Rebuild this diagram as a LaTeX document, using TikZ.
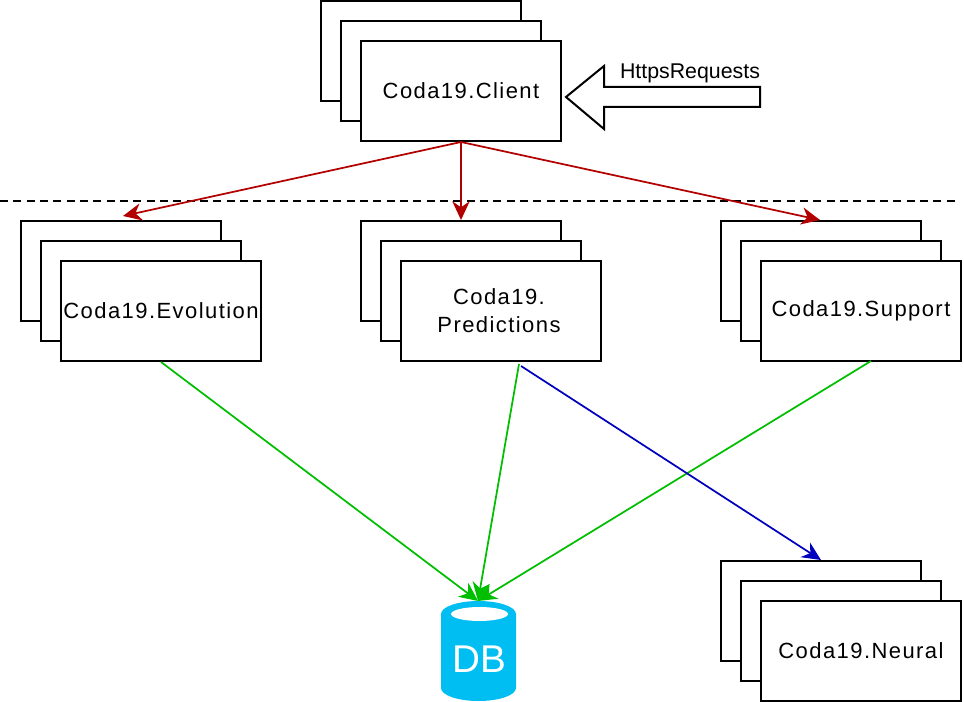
\documentclass[tikz,border=0pt]{standalone}
\usepackage{fontspec}
\setmainfont{Liberation Sans}
\newfontfamily\wideface[LetterSpace=6.5]{Liberation Sans}
\usetikzlibrary{arrows.meta}
\definecolor{clientred}{HTML}{B20000}
\definecolor{dbgreen}{HTML}{00BE00}
\definecolor{neuralblue}{HTML}{0000BE}
\definecolor{dbcyan}{HTML}{00BEF2}
\tikzset{
	service/.style={draw, line width=1.5pt, fill=white, minimum width=150pt, minimum height=75pt, inner sep=0pt, align=center, font=\fontsize{16.5pt}{21pt}\wideface},
	call/.style={line width=1.3pt, -{Stealth[length=14pt, width=13pt, inset=4.5pt]}},
}

\begin{document}
\begin{tikzpicture}[x=0.75pt, y=-0.75pt]
	\useasboundingbox (0, 0) rectangle (964, 702);
	\fill[white] (0, 0) rectangle (964, 702);

	% client
	\node[service] (clientA) at (421, 51) {};
	\node[service] (clientB) at (441, 71) {};
	\node[service] (client) at (461, 91) {\raisebox{-1pt}{Coda19.Client}};

	% services
	\node[service] (evolutionA) at (121, 271) {};
	\node[service] (evolutionB) at (141, 291) {};
	\node[service] (evolution) at (161, 311) {\raisebox{-0.7pt}{Coda19.Evolution}};
	\node[service] (predictionsA) at (461, 271) {};
	\node[service] (predictionsB) at (481, 291) {};
	\node[service] (predictions) at (501, 311) {Coda19.\hspace*{3pt}\\Predictions\hspace*{3pt}};
	\node[service] (supportA) at (821, 271) {};
	\node[service] (supportB) at (841, 291) {};
	\node[service] (support) at (861, 311) {\raisebox{-0.7pt}{Coda19.Support}};
	\node[service] (neuralA) at (821, 611) {};
	\node[service] (neuralB) at (841, 631) {};
	\node[service] (neural) at (861, 651) {Coda19.Neural};

	% separator
	\coordinate (sepL) at (0, 201);
	\coordinate (sepR) at (957, 201);
	\draw[line width=1.1pt, dash pattern=on 6pt off 4pt] (sepL) -- (sepR);

	% request arrow
	\coordinate (reqTip) at (566, 97);
	\coordinate (reqTop) at (604, 66);
	\coordinate (reqNeckT) at (604, 87);
	\coordinate (reqEndT) at (760, 87);
	\coordinate (reqEndB) at (760, 107);
	\coordinate (reqNeckB) at (604, 107);
	\coordinate (reqBot) at (604, 129);
	\draw[line width=1.5pt, line join=miter] (reqTip) -- (reqTop) -- (reqNeckT) -- (reqEndT) -- (reqEndB) -- (reqNeckB) -- (reqBot) -- cycle;
	\node[inner sep=0pt, font=\fontsize{16pt}{20pt}\selectfont] (requests) at (690, 73) {HttpsRequests};

	% database
	\fill[dbcyan] (441, 614) arc[x radius=37.5, y radius=13, start angle=180, end angle=360] -- (516, 688) arc[x radius=37.5, y radius=13, start angle=0, end angle=180] -- cycle;
	\fill[white] (479.5, 614) ellipse[x radius=28.5, y radius=7];
	\node[inner sep=0pt, text=white, font=\fontsize{29pt}{30pt}\selectfont] (db) at (479.5, 659) {DB};
	\coordinate (dbTop) at (478, 601);

	% calls
	\coordinate (clientOut) at (client.south);
	\coordinate (evolutionIn) at (123, 216);
	\coordinate (supportIn) at (820, 220);
	\draw[call, clientred] (clientOut) -- (evolutionIn);
	\draw[call, clientred] (clientOut) -- (predictionsA.north);
	\draw[call, clientred] (clientOut) -- (supportIn);
	\coordinate (predictionsOut) at (519, 364);
	\coordinate (neuralOut) at (521, 366);
	\coordinate (supportOut) at (871, 361);
	\draw[call, dbgreen] (evolution.south) -- (dbTop);
	\draw[call, dbgreen] (predictionsOut) -- (dbTop);
	\draw[call, dbgreen] (supportOut) -- (dbTop);
	\draw[call, neuralblue] (neuralOut) -- (neuralA.north);
\end{tikzpicture}
\end{document}
